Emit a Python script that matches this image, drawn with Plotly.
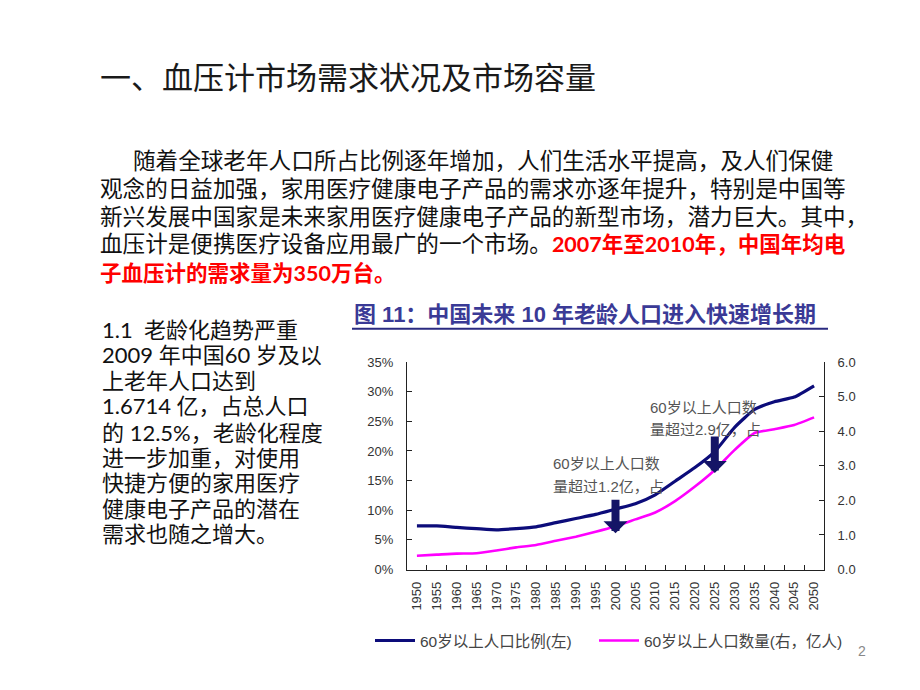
import plotly.graph_objects as go

# ---------------- data ----------------
years = ['1950', '1955', '1960', '1965', '1970', '1975', '1980', '1985', '1990', '1995',
         '2000', '2005', '2010', '2015', '2020', '2025', '2030', '2035', '2040', '2045', '2050']
ratio_pct = [7.35, 7.35, 7.1, 6.9, 6.7, 6.9, 7.2, 7.9, 8.6, 9.3,
             10.2, 11.1, 12.6, 14.9, 17.2, 19.9, 24.0, 27.0, 28.3, 29.1, 31.0]
count_yi = [0.40, 0.43, 0.46, 0.47, 0.55, 0.64, 0.71, 0.83, 0.95, 1.09,
            1.25, 1.45, 1.65, 1.98, 2.40, 2.88, 3.46, 3.95, 4.06, 4.18, 4.40]

series_names = ['60岁以上人口比例(左)', '60岁以上人口数量(右，亿人)']
arrow_years = ['2000', '2025']
arrow_tip_pct = [6.1, 16.3]
arrow_len_px = [35, 38]
arrow_labels = ['60岁以上人口数<br>量超过1.2亿，占', '60岁以上人口数<br>量超过2.9亿，占']

slide_title = '一、血压计市场需求状况及市场容量'
chart_title = '图 11：中国未来 10 年老龄人口进入快速增长期'
para_lines = [
    ('随着全球老年人口所占比例逐年增加，人们生活水平提高，及人们保健', ''),
    ('观念的日益加强，家用医疗健康电子产品的需求亦逐年提升，特别是中国等', ''),
    ('新兴发展中国家是未来家用医疗健康电子产品的新型市场，潜力巨大。其中，', ''),
    ('血压计是便携医疗设备应用最广的一个市场。', '2007年至2010年，中国年均电'),
    ('', '子血压计的需求量为350万台。'),
]
side_lines = ['1.1  老龄化趋势严重', '2009 年中国60 岁及以', '上老年人口达到', '1.6714 亿，占总人口',
              '的 12.5%，老龄化程度', '进一步加重，对使用', '快捷方便的家用医疗', '健康电子产品的潜在',
              '需求也随之增大。']

W, H = 920, 690
def px(x):
    return x / W
def py(y):
    return 1 - y / H

CJK = 'Noto Sans CJK SC'
NAVY = '#0c0c7a'

fig = go.Figure()
fig.add_trace(go.Scatter(x=years, y=ratio_pct, mode='lines', name=series_names[0],
                         line=dict(color=NAVY, width=3.2, shape='spline', smoothing=0.5),
                         yaxis='y', legend='legend'))
fig.add_trace(go.Scatter(x=years, y=count_yi, mode='lines', name=series_names[1],
                         line=dict(color='#ff00ff', width=2.6, shape='spline', smoothing=0.5),
                         yaxis='y2', legend='legend2'))

tickfont = dict(family='Liberation Sans, Arial', size=13, color='#333333')
legfont = dict(family='Liberation Sans, ' + CJK, size=15.5, color='#444444')
fig.update_layout(
    width=W, height=H,
    margin=dict(l=0, r=0, t=0, b=0),
    paper_bgcolor='white', plot_bgcolor='white',
    showlegend=True,
    legend=dict(orientation='h', x=px(370), y=py(648), xanchor='left', yanchor='middle',
                font=legfont, itemwidth=40, bgcolor='rgba(0,0,0,0)'),
    legend2=dict(orientation='h', x=px(594), y=py(648), xanchor='left', yanchor='middle',
                 font=legfont, itemwidth=40, bgcolor='rgba(0,0,0,0)'),
    xaxis=dict(domain=[px(407), px(824)], type='category', tickangle=-90,
               range=[-0.5, len(years) - 0.5], autorange=False,
               ticks='inside', tickson='boundaries', ticklen=5, tickcolor='#222',
               showline=True, linecolor='#222', linewidth=1, showgrid=False,
               tickfont=tickfont, ticklabelstandoff=6, fixedrange=True),
    yaxis=dict(domain=[py(575), py(363)], range=[0, 35], dtick=5, ticksuffix='%',
               ticks='inside', ticklen=5, tickcolor='#222', showline=True, linecolor='#222',
               linewidth=1, showgrid=False, zeroline=False, tickfont=tickfont,
               ticklabelstandoff=10),
    yaxis2=dict(overlaying='y', side='right', range=[0, 6], dtick=1, tickformat='.1f',
                ticks='inside', ticklen=5, tickcolor='#222', showline=True, linecolor='#222',
                linewidth=1, showgrid=False, zeroline=False, tickfont=tickfont,
                ticklabelstandoff=10),
)

ann = []
# slide title
ann.append(dict(x=px(98), y=py(70), xref='paper', yref='paper', xanchor='left', yanchor='middle',
                text=slide_title, showarrow=False,
                font=dict(family=CJK, size=31, color='#1a1a1a')))
# paragraph
para_y = [157, 186, 214, 242, 271]
for i, (black, red) in enumerate(para_lines):
    x0 = 131 if i == 0 else 98
    txt = ''
    if black:
        txt += black
    if red:
        txt += ('<b><span style="color:#ff0000;font-size:21.5px">' + red + '</span></b>')
    ann.append(dict(x=px(x0), y=py(para_y[i]), xref='paper', yref='paper', xanchor='left',
                    yanchor='middle', text=txt, showarrow=False, height=27,
                    font=dict(family='Lato, ' + CJK, size=22.6, color='#111111')))
# side text
side_y = [329, 355, 381, 407, 434, 460, 486, 512, 538]
for t, yy in zip(side_lines, side_y):
    ann.append(dict(x=px(100), y=py(yy), xref='paper', yref='paper', xanchor='left',
                    yanchor='middle', text=t, showarrow=False, height=24,
                    font=dict(family='Lato, ' + CJK, size=22, color='#111111')))
# chart title
ann.append(dict(x=px(352), y=py(314), xref='paper', yref='paper', xanchor='left', yanchor='middle',
                text='<b>' + chart_title + '</b>', showarrow=False,
                font=dict(family='Liberation Sans, ' + CJK, size=22, color='#3a3a96')))
# arrows
for yr, tip, ln in zip(arrow_years, arrow_tip_pct, arrow_len_px):
    ann.append(dict(x=years.index(yr), y=tip, xref='x', yref='y', ax=0, ay=-ln, text='',
                    showarrow=True, arrowhead=1, arrowsize=0.5, arrowwidth=8,
                    arrowcolor='#141466'))
# arrow labels
label_pos = [(551, 467, 490), (648, 409, 432)]
for lab, (lx, l1, l2) in zip(arrow_labels, label_pos):
    parts = lab.split('<br>')
    for t, yy in zip(parts, (l1, l2)):
        ann.append(dict(x=px(lx), y=py(yy), xref='paper', yref='paper', xanchor='left',
                        yanchor='middle', text=t, showarrow=False, height=21,
                        font=dict(family='Liberation Sans, ' + CJK, size=15, color='#555555')))
# page number
ann.append(dict(x=px(862), y=py(658), xref='paper', yref='paper', xanchor='center', yanchor='middle',
                text='2', showarrow=False, font=dict(family='Liberation Sans', size=14, color='#888888')))
fig.update_layout(annotations=ann)

# chart title underline
fig.add_shape(type='line', xref='paper', yref='paper', x0=px(352), x1=px(828), y0=py(329), y1=py(329),
              line=dict(color='#2a2a80', width=2))

fig.write_html('out.html', post_script="document.body.style.margin='0';",
               config={'displayModeBar': False})
